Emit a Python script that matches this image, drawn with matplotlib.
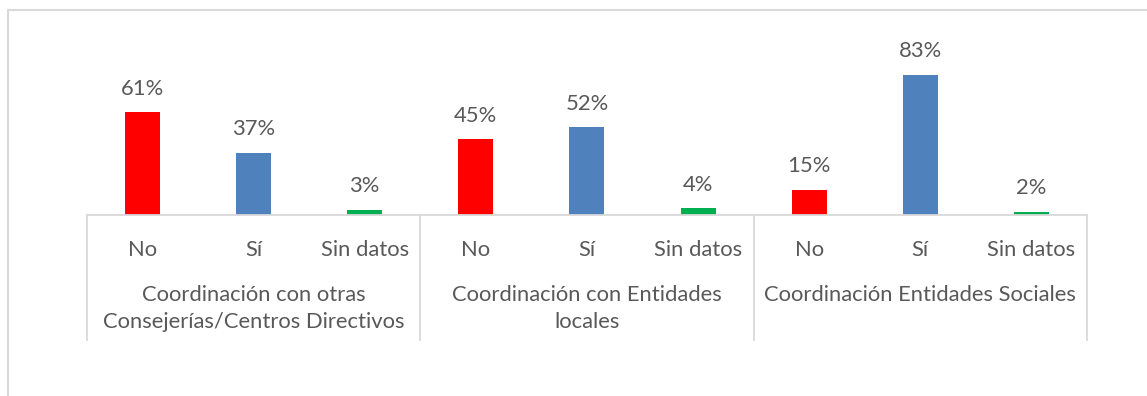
import matplotlib.pyplot as plt
from matplotlib.lines import Line2D
from matplotlib.transforms import blended_transform_factory

# Datos por grupo de coordinación
grupos = ['Coordinación con otras\nConsejerías/Centros Directivos',
          'Coordinación con Entidades\nlocales',
          'Coordinación Entidades Sociales']
respuestas = ['No', 'Sí', 'Sin datos']
valores_no = [61, 45, 15]
valores_si = [37, 52, 83]
valores_sd = [3, 4, 2]

colores = ['#FF0000', '#4F81BD', '#00B050']
gris = '#D9D9D9'
texto = '#595959'

plt.rcParams['font.family'] = ['Lato', 'DejaVu Sans']
tam = 15.8

fig = plt.figure(figsize=(11.47, 3.96), dpi=100)
ax = fig.add_axes([87 / 1147, 181 / 396, 1000 / 1147, 185.6 / 396])

valores = [valores_no, valores_si, valores_sd]
for g in range(len(grupos)):
    for r in range(len(respuestas)):
        x = g * 3 + r + 0.5
        v = valores[r][g]
        ax.bar(x, v, width=0.315, color=colores[r])
        ax.text(x, v + 8, f'{v}%', ha='center', va='bottom', fontsize=tam, color=texto)

ax.set_xlim(0, 9)
ax.set_ylim(0, 110)
ax.set_yticks([])
ax.set_xticks([])
for lado in ['top', 'right', 'left']:
    ax.spines[lado].set_visible(False)
ax.spines['bottom'].set_color(gris)
ax.spines['bottom'].set_linewidth(1.3)

# Eje de categorías en dos niveles
trans = blended_transform_factory(ax.transData, fig.transFigure)
for g in range(len(grupos) + 1):
    ax.plot([g * 3, g * 3], [181 / 396, 56 / 396], color=gris, lw=1.3,
            transform=trans, clip_on=False)
for g, nombre in enumerate(grupos):
    for r, resp in enumerate(respuestas):
        ax.text(g * 3 + r + 0.5, 146 / 396, resp, ha='center', va='center',
                fontsize=tam, color=texto, transform=trans)
    ax.text(g * 3 + 1.5, 111 / 396, nombre, ha='center', va='top',
            fontsize=tam, color=texto, transform=trans, linespacing=1.45)

# Marco exterior
fig.add_artist(Line2D([8 / 1147, 1], [386 / 396, 386 / 396], color=gris, lw=1.5))
fig.add_artist(Line2D([8 / 1147, 8 / 1147], [0, 386 / 396], color=gris, lw=1.5))

fig.savefig('out.png', dpi=100)
